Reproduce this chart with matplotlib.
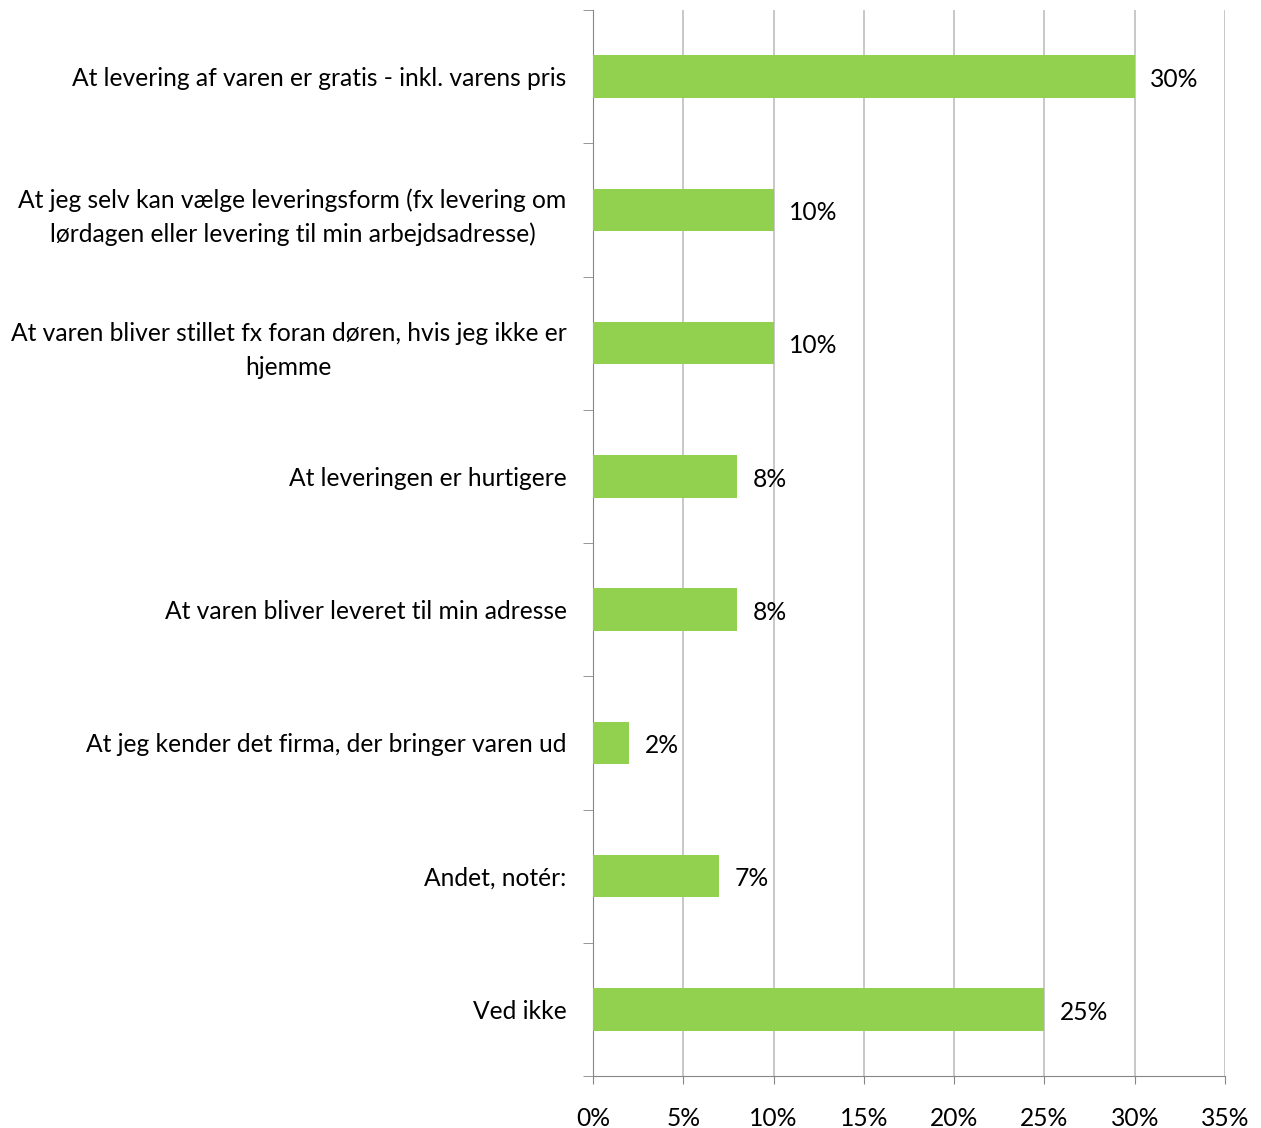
import matplotlib
matplotlib.use("Agg")
import matplotlib.pyplot as plt
from matplotlib.ticker import FixedLocator, NullFormatter

categories = [
    "At levering af varen er gratis - inkl. varens pris",
    "At jeg selv kan vælge leveringsform (fx levering om\nlørdagen eller levering til min arbejdsadresse)",
    "At varen bliver stillet fx foran døren, hvis jeg ikke er\nhjemme",
    "At leveringen er hurtigere",
    "At varen bliver leveret til min adresse",
    "At jeg kender det firma, der bringer varen ud",
    "Andet, notér:",
    "Ved ikke",
]
values = [30, 10, 10, 8, 8, 2, 7, 25]
xticks = [0, 5, 10, 15, 20, 25, 30, 35]
xtick_labels = ["0%", "5%", "10%", "15%", "20%", "25%", "30%", "35%"]

plt.rcParams['font.family'] = ['Lato', 'DejaVu Sans']
FS = 17.7
fig = plt.figure(figsize=(12.61, 11.28), dpi=100)
ax = fig.add_axes([593/1261, 1 - 1076/1128, (1225-593)/1261, (1076-10)/1128])

n = len(categories)
ypos = list(range(n))
ax.barh(ypos, values, height=0.32, color="#92D050", zorder=3)
ax.set_ylim(n - 0.5, -0.5)
ax.set_xlim(0, 35)

for y, v in zip(ypos, values):
    ax.text(v + 0.85, y + 0.02, f"{v}%", va="center", ha="left", fontsize=FS, color="black")

ax.set_xticks(xticks)
ax.set_xticklabels(xtick_labels, fontsize=FS)
ax.xaxis.grid(True, color="#BFBFBF", linewidth=1.2, zorder=0)
ax.tick_params(axis="x", length=6, color="#868686", pad=16)

ax.set_yticks(ypos)
ax.set_yticklabels(categories, fontsize=FS, linespacing=1.55)
ax.tick_params(axis="y", length=0, pad=19)
ax.yaxis.set_minor_locator(FixedLocator([i - 0.5 for i in range(n + 1)]))
ax.yaxis.set_minor_formatter(NullFormatter())
ax.tick_params(axis="y", which="minor", length=7, color="#868686")
for lbl in ax.get_yticklabels():
    lbl.set_horizontalalignment("right")
    lbl.set_multialignment("center")

for s in ["top", "right"]:
    ax.spines[s].set_visible(False)
ax.spines["left"].set_color("#868686")
ax.spines["bottom"].set_color("#868686")

fig.savefig("out.png", dpi=100)
